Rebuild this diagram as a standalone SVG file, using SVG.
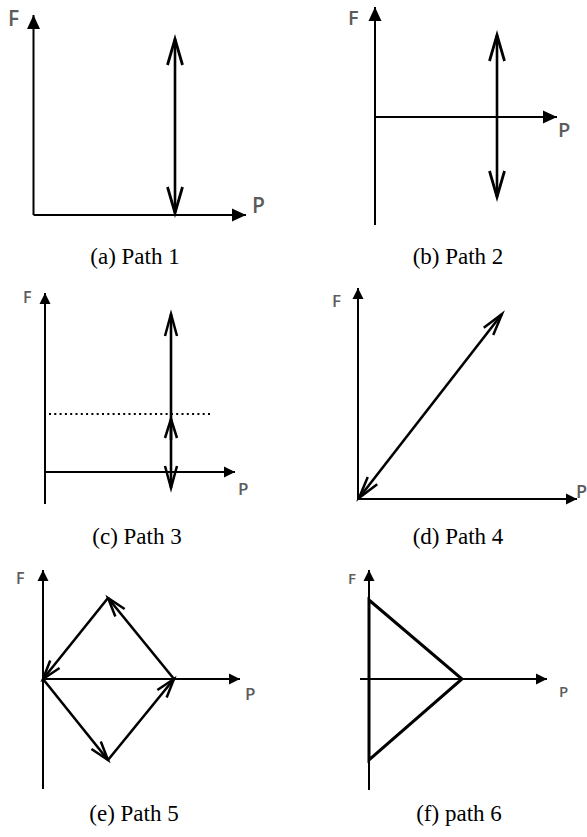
<svg xmlns="http://www.w3.org/2000/svg" width="587" height="837" viewBox="0 0 587 837">
<style>
.ax{stroke:#000;stroke-width:2;fill:none}
.pt{stroke:#000;stroke-width:2.6;fill:none}
.tri{stroke:#000;stroke-width:3;fill:none;stroke-linejoin:miter}
.dot{stroke:#000;stroke-width:2;stroke-dasharray:2 3.3;fill:none}
.lbl{font-family:"Open Sans","DejaVu Sans",sans-serif;font-weight:600;fill:#5c5c5c}
.cap{font-family:"Liberation Serif","Times New Roman",serif;font-size:23px;fill:#000;text-anchor:middle}
</style>
<defs>
<marker id="axL" markerUnits="userSpaceOnUse" orient="auto" refX="0" refY="0" markerWidth="1" markerHeight="1" overflow="visible"><path d="M-14,-6.5 L0,0 L-14,6.5 z" fill="#000"/></marker>
<marker id="axS" markerUnits="userSpaceOnUse" orient="auto" refX="0" refY="0" markerWidth="1" markerHeight="1" overflow="visible"><path d="M-11,-5.5 L0,0 L-11,5.5 z" fill="#000"/></marker>
<marker id="opL" markerUnits="userSpaceOnUse" orient="auto-start-reverse" refX="0" refY="0" markerWidth="1" markerHeight="1" overflow="visible"><path d="M-26,-7.5 L0,0 L-26,7.5" fill="none" stroke="#000" stroke-width="2.8"/></marker>
<marker id="opM" markerUnits="userSpaceOnUse" orient="auto-start-reverse" refX="0" refY="0" markerWidth="1" markerHeight="1" overflow="visible"><path d="M-22,-6 L0,0 L-22,6" fill="none" stroke="#000" stroke-width="2.5"/></marker>
<marker id="opS" markerUnits="userSpaceOnUse" orient="auto-start-reverse" refX="0" refY="0" markerWidth="1" markerHeight="1" overflow="visible"><path d="M-19,-6 L0,0 L-19,6" fill="none" stroke="#000" stroke-width="2.5"/></marker>
</defs>

<g id="panel-a">
<line class="ax" x1="33.5" y1="215" x2="33.5" y2="15" marker-end="url(#axL)"/>
<line class="ax" x1="33.5" y1="215" x2="246" y2="215" marker-end="url(#axL)"/>
<text class="lbl" x="8" y="26" font-size="21">F</text>
<text class="lbl" x="252" y="213" font-size="21">P</text>
<line class="pt" x1="175" y1="213" x2="175" y2="39" stroke-width="3" marker-start="url(#opL)" marker-end="url(#opL)"/>
<text class="cap" x="135" y="264">(a) Path 1</text>
</g>

<g id="panel-b">
<line class="ax" x1="375" y1="225" x2="375" y2="7" marker-end="url(#axL)"/>
<line class="ax" x1="375" y1="117" x2="557" y2="117" marker-end="url(#axL)"/>
<text class="lbl" x="348" y="25" font-size="20">F</text>
<text class="lbl" x="558" y="137" font-size="20">P</text>
<line class="pt" x1="497" y1="197" x2="497" y2="35" stroke-width="3.2" marker-start="url(#opL)" marker-end="url(#opL)"/>
<text class="cap" x="458" y="264">(b) Path 2</text>
</g>

<g id="panel-c">
<line class="ax" x1="45" y1="504" x2="45" y2="293" marker-end="url(#axS)"/>
<line class="ax" x1="45" y1="472" x2="235" y2="472" marker-end="url(#axS)"/>
<text class="lbl" x="23" y="303" font-size="16">F</text>
<text class="lbl" x="238" y="495" font-size="17">P</text>
<line class="dot" x1="49" y1="414" x2="210" y2="414"/>
<line class="pt" x1="171" y1="488" x2="171" y2="314" marker-start="url(#opM)" marker-end="url(#opM)"/>
<line class="pt" x1="171" y1="440" x2="171" y2="419" marker-end="url(#opS)"/>
<text class="cap" x="137" y="544">(c) Path 3</text>
</g>

<g id="panel-d">
<line class="ax" x1="358" y1="500" x2="358" y2="288" marker-end="url(#axS)"/>
<line class="ax" x1="358" y1="499" x2="577" y2="499" marker-end="url(#axS)"/>
<text class="lbl" x="332" y="307" font-size="17">F</text>
<text class="lbl" x="576" y="498" font-size="18">P</text>
<line class="pt" x1="359" y1="498" x2="502" y2="314" marker-start="url(#opM)" marker-end="url(#opM)"/>
<text class="cap" x="458" y="544">(d) Path 4</text>
</g>

<g id="panel-e">
<line class="ax" x1="43" y1="789" x2="43" y2="570" marker-end="url(#axS)"/>
<line class="ax" x1="43" y1="679" x2="240" y2="679" marker-end="url(#axS)"/>
<text class="lbl" x="16" y="584" font-size="16">F</text>
<text class="lbl" x="245" y="700" font-size="17">P</text>
<line class="pt" x1="43" y1="679" x2="108" y2="760" marker-end="url(#opS)"/>
<line class="pt" x1="108" y1="760" x2="174" y2="679" marker-end="url(#opS)"/>
<line class="pt" x1="174" y1="679" x2="108" y2="598" marker-end="url(#opS)"/>
<line class="pt" x1="108" y1="598" x2="43" y2="679" marker-end="url(#opS)"/>
<text class="cap" x="134" y="821">(e) Path 5</text>
</g>

<g id="panel-f">
<line class="ax" x1="369" y1="790" x2="369" y2="570" marker-end="url(#axS)"/>
<line class="ax" x1="360" y1="679" x2="547" y2="679" marker-end="url(#axS)"/>
<text class="lbl" x="348" y="584" font-size="15">F</text>
<text class="lbl" x="559" y="697" font-size="15">P</text>
<polygon class="tri" points="369,600 462,679 369,760"/>
<text class="cap" x="459" y="821">(f) path 6</text>
</g>
</svg>
